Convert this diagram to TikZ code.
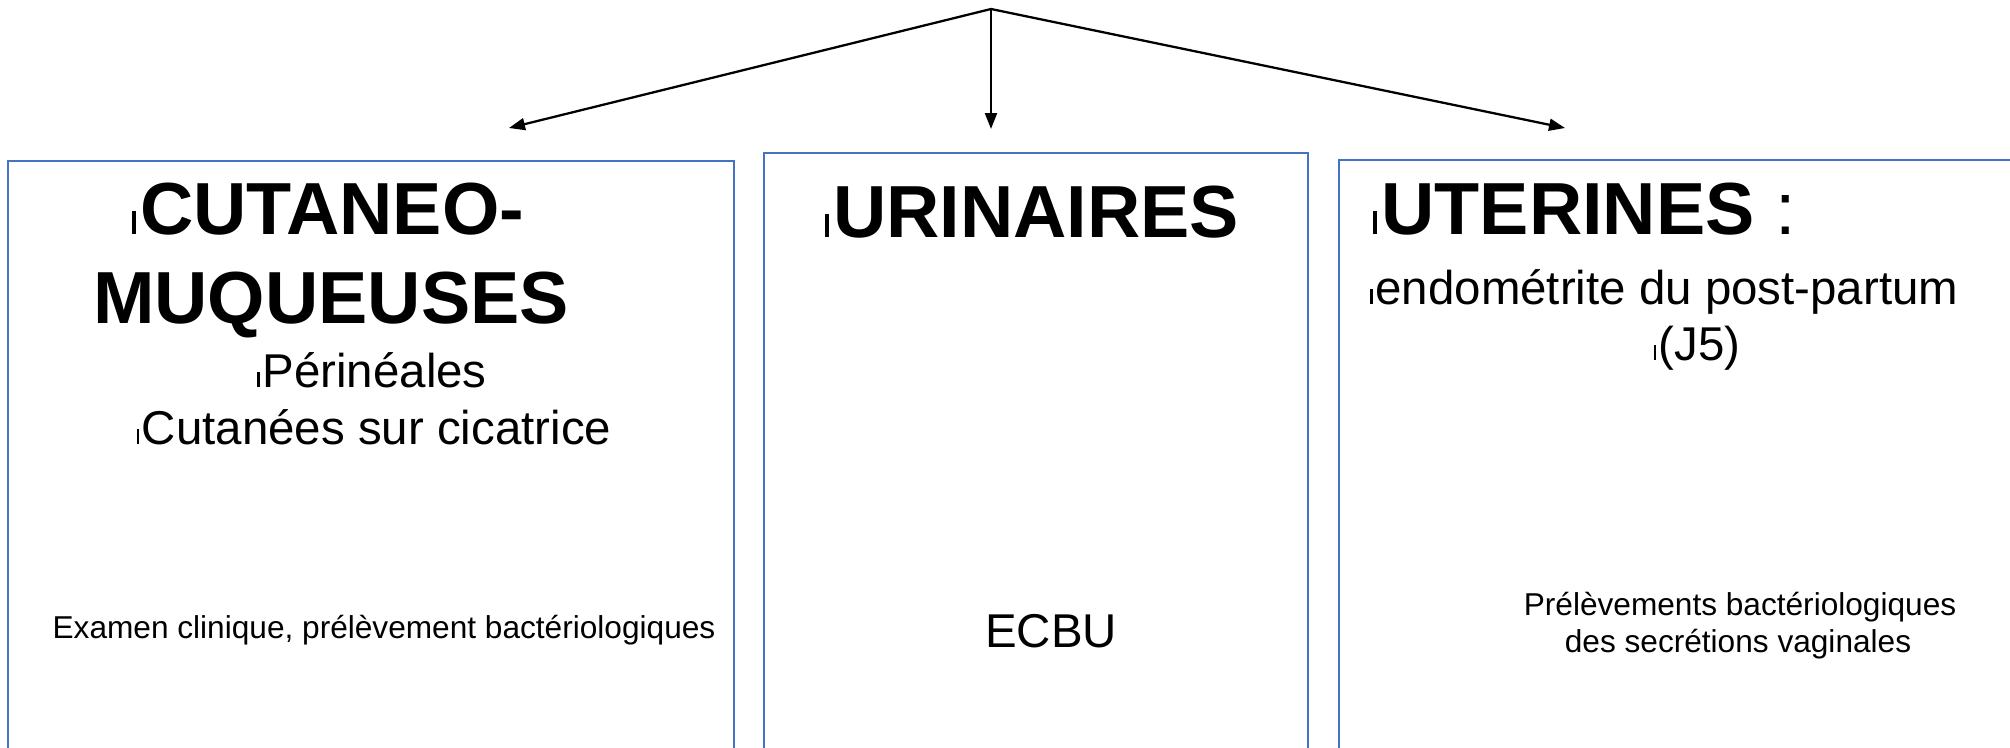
\documentclass[tikz,border=0pt]{standalone}
\usepackage{fontspec}
\setmainfont{Liberation Sans}
\usetikzlibrary{arrows.meta}

\definecolor{bordbleu}{RGB}{68,114,196}
\newcommand{\puce}{\rule{0.05em}{0.31em}\hspace{0.06em}}

\begin{document}
\begin{tikzpicture}[x=0.02cm, y=-0.02cm,
    every node/.style={inner sep=0pt, anchor=base, text=black},
    titre/.style={font=\fontsize{42}{50}\selectfont\bfseries},
    sousitem/.style={font=\fontsize{27}{32}\selectfont},
    examen/.style={font=\fontsize{18}{22}\selectfont},
    boite/.style={draw=bordbleu, line width=1pt},
    fleche/.style={draw, line width=1.3pt, -{Triangle[length=0.32cm,width=0.24cm]}},
    ]
  \useasboundingbox (0,0) rectangle (2010,747);
  \clip (0,0) rectangle (2010,747);

  % les trois cadres
  \draw[boite] (8,161) rectangle (734,790);
  \draw[boite] (764,153) rectangle (1308,790);
  \draw[boite] (1339,160) rectangle (2060,790);

  % cutaneo-muqueuses
  \node[titre] (cutan) at (328,234) {\puce CUTANEO-};
  \node[titre] (muq) at (331,323) {MUQUEUSES};
  \node[sousitem] (perin) at (372,387) {\puce Périnéales};
  \node[sousitem] (cicat) at (374,444) {\puce Cutanées sur cicatrice};
  \node[examen] (exam) at (384,638) {Examen clinique, prélèvement bactériologiques};

  % urinaires
  \node[titre] (urin) at (1032,237) {\puce URINAIRES};
  \node[sousitem] (ecbu) at (1051,647) {ECBU};

  % uterines
  \node[titre, anchor=base west] (uter) at (1373,234) {\puce UTERINES \mdseries :};
  \node[sousitem, anchor=base west] (endom) at (1370,304) {\puce endométrite du post-partum};
  \node[sousitem] (jcinq) at (1697,360) {\puce(J5)};
  \node[examen] (prelA) at (1740,615) {Prélèvements bactériologiques};
  \node[examen] (prelB) at (1738,652) {des secrétions vaginales};

  % fleches
  \coordinate (source) at (991,9);
  \coordinate (versA) at (509,128);
  \coordinate (versB) at (991,129);
  \coordinate (versC) at (1565,128);
  \draw[fleche] (source) -- (versA);
  \draw[fleche] (source) -- (versB);
  \draw[fleche] (source) -- (versC);
\end{tikzpicture}
\end{document}
